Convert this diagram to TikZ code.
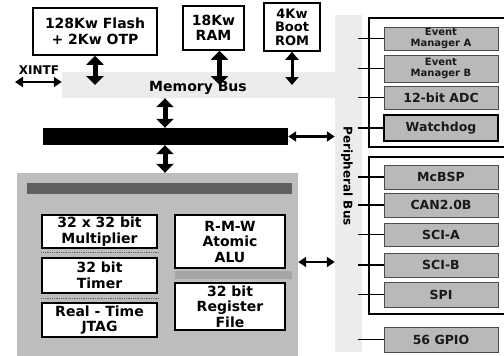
\documentclass[tikz,border=0pt]{standalone}
\usepackage{fontspec}
\setmainfont{DejaVu Sans}
\usetikzlibrary{arrows.meta,fit}
\begin{document}
\begin{tikzpicture}[x=1pt,y=-1pt,
  box/.style={draw, line width=1.6pt, fill=white, inner sep=0pt, align=center, font=\bfseries\fontsize{14}{15.5}\selectfont},
  gbox/.style={draw=gray!60!black, line width=0.6pt, fill=gray!55, inner sep=0pt, align=center, text=black!90, minimum width=114pt, font=\bfseries\fontsize{12.5}{12.5}\selectfont},
  area/.style={inner sep=0pt, draw=none},
  bigarr/.style={line width=5pt, {Triangle[width=17pt,length=9pt]}-{Triangle[width=17pt,length=9pt]}},
  midarr/.style={line width=3pt, {Triangle[width=13pt,length=8pt]}-{Triangle[width=13pt,length=8pt]}},
  harr/.style={line width=2.5pt, {Triangle[width=10pt,length=8pt]}-{Triangle[width=10pt,length=8pt]}},
  tickline/.style={line width=1.4pt},
  frameline/.style={line width=1.8pt},
  sep/.style={densely dotted, line width=0.8pt, black!60},
  lbl/.style={font=\bfseries\fontsize{14}{15}\selectfont, inner sep=0pt},
]
\useasboundingbox (0,0) rectangle (504,356);

% buses (background)
\node (membus) [area, fill=gray!15, fit={(62,72)(362,98)}] {};
\node (pbus) [area, fill=gray!15, fit={(335,15)(362,352)}] {};
\node (membuslbl) [lbl] at (198,88) {Memory Bus};
\node (pbuslbl) [lbl, rotate=-90, font=\bfseries\fontsize{12}{12}\selectfont] at (347,176) {Peripheral Bus};

% memories
\node (flash) [box, minimum width=124pt, minimum height=47pt] at (95,31.5) {128Kw Flash\\+ 2Kw OTP};
\node (ram) [box, minimum width=61pt, minimum height=44pt] at (213.5,28) {18Kw\\RAM};
\node (rom) [box, minimum width=56pt, minimum height=48pt, font=\bfseries\fontsize{13}{13.5}\selectfont] at (292,27) {4Kw\\Boot\\ROM};

\draw[bigarr] (flash.south) -- (flash.south |- membus.center);
\draw[bigarr] ([xshift=6pt]ram.south) -- ([xshift=6pt]ram.south |- membus.center);
\draw[midarr] (rom.south) -- (rom.south |- membus.center);

% XINTF
\coordinate (xend) at (15,82);
\node (xintf) [font=\bfseries\fontsize{12}{12}\selectfont, inner sep=0pt] at (39,70) {XINTF};
\draw[harr] (xend) -- (membus.west |- xend);

% data bus bar
\node (dbus) [area, fill=black, fit={(43,128)(288,145)}] {};
\coordinate (ax) at (165,0);
\draw[bigarr] (membus.south -| ax) -- (dbus.north -| ax);
\draw[harr] (dbus.east) -- (dbus.east -| pbus.west);

% CPU
\node (cpu) [area, fill=gray!52, fit={(17,173)(298,356)}] {};
\node (cband) [area, fill=gray!75!black, fit={(27,183)(292,194)}] {};
\draw[bigarr] (dbus.south -| ax) -- (cpu.north -| ax);
\coordinate (cy) at (0,262);
\draw[harr] (cpu.east |- cy) -- (pbus.west |- cy);

\node (mult) [box, minimum width=115pt, minimum height=33pt] at (99.5,231.5) {32 x 32 bit\\Multiplier};
\node (timer) [box, minimum width=115pt, minimum height=35pt] at (99.5,275.5) {32 bit\\Timer};
\node (jtag) [box, minimum width=115pt, minimum height=34pt] at (99.5,320) {Real - Time\\JTAG};
\node (alu) [box, minimum width=110pt, minimum height=53pt] at (230,241.5) {R-M-W\\Atomic\\ALU};
\node (regf) [box, minimum width=110pt, minimum height=47pt] at (230,306.5) {32 bit\\Register\\File};
\draw[sep] (mult.south west) ++(0,4) -- ++(118,0);
\draw[sep] (timer.south west) ++(0,4.5) -- ++(118,0);
\node (aluband) [area, fill=gray!70, fit={(175,271)(292,279)}] {};

% peripheral frames
\draw[frameline] (504,18) -- (369,18) -- (369,147) -- (504,147);
\draw[frameline] (504,157) -- (369,157) -- (369,314) -- (504,314);

% peripherals
\node (ema) [gbox, minimum height=23pt, font=\bfseries\fontsize{10}{10.5}\selectfont] at (441,38.5) {Event\\Manager A};
\node (emb) [gbox, minimum height=27pt, font=\bfseries\fontsize{10}{10.5}\selectfont] at (441,68.5) {Event\\Manager B};
\node (adc) [gbox, minimum height=23pt] at (441,97.5) {12-bit ADC};
\node (wdog) [gbox, draw=black, line width=2pt, minimum height=26pt] at (441,128) {Watchdog};
\node (mcbsp) [gbox, minimum height=24pt] at (441,177) {McBSP};
\node (can) [gbox, minimum height=24pt] at (441,205) {CAN2.0B};
\node (scia) [gbox, minimum height=23pt] at (441,234.5) {SCI-A};
\node (scib) [gbox, minimum height=24pt] at (441,265) {SCI-B};
\node (spi) [gbox, minimum height=25pt] at (441,294.5) {SPI};
\node (gpio) [gbox, minimum height=25pt] at (441,339.5) {56 GPIO};

\foreach \b in {ema,emb,adc,wdog,mcbsp,can,scia,scib,spi,gpio}
  \draw[tickline] ([xshift=-4pt]pbus.east |- \b.west) -- (\b.west);
\end{tikzpicture}
\end{document}
